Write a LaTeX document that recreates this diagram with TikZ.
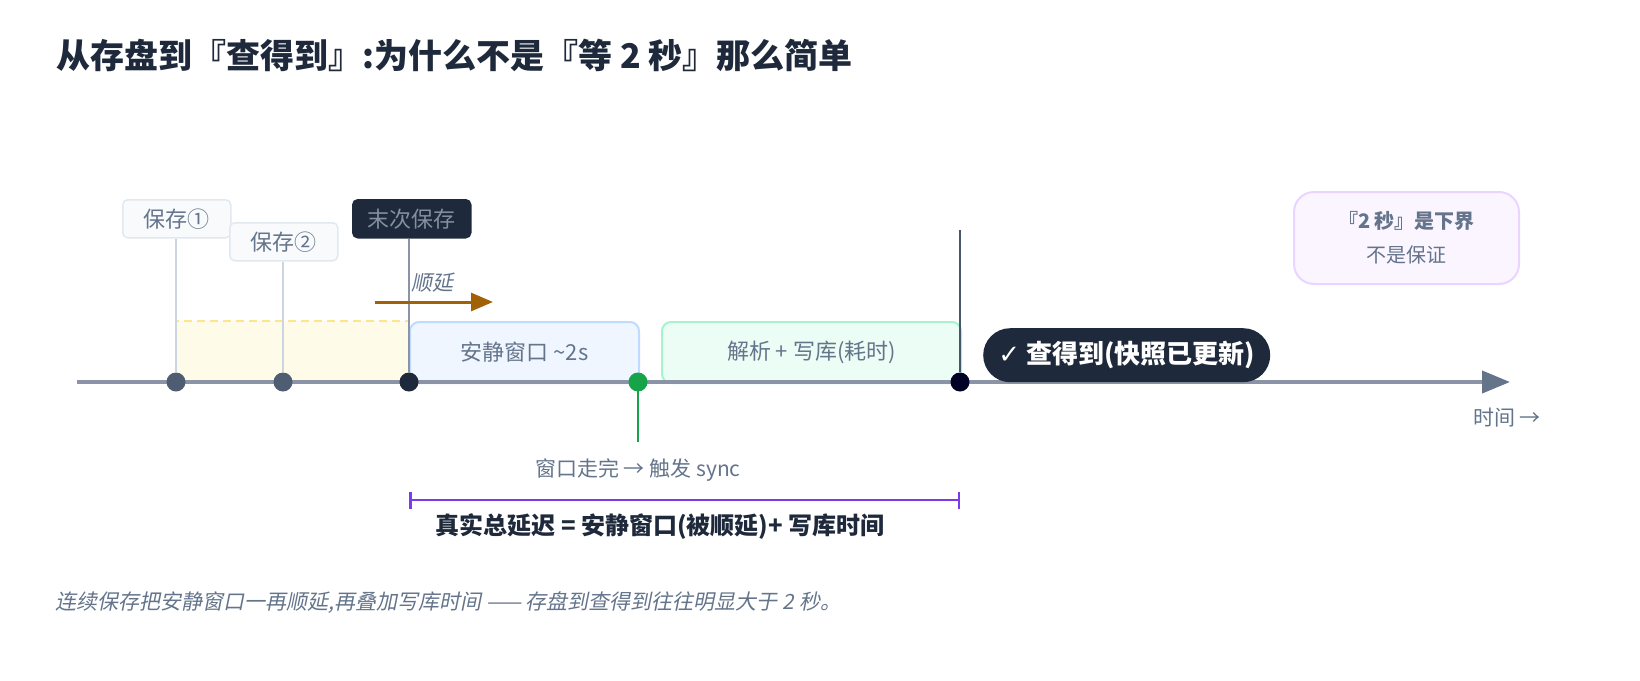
\documentclass[tikz,border=0pt]{standalone}
\usepackage{fontspec}
\setmainfont{Noto Sans CJK SC}
\newfontfamily\slantfont[FakeSlant=0.2]{Noto Sans CJK SC}
\newfontfamily\symfont{DejaVu Sans}
\usetikzlibrary{arrows.meta,positioning}

\definecolor{ink}{HTML}{1E293B}
\definecolor{muted}{HTML}{64748B}
\definecolor{axisgray}{HTML}{8A94A6}
\definecolor{okgreen}{HTML}{16A34A}
\definecolor{pushbrown}{HTML}{A16207}
\definecolor{spanviolet}{HTML}{7C3AED}
\definecolor{quietfill}{HTML}{EFF6FF}
\definecolor{quietline}{HTML}{BFDBFE}
\definecolor{writefill}{HTML}{ECFDF5}
\definecolor{writeline}{HTML}{A7F3D0}
\definecolor{pendfill}{HTML}{FEFCE8}
\definecolor{pendline}{HTML}{FDE68A}
\definecolor{notefill}{HTML}{FAF5FF}
\definecolor{noteline}{HTML}{E9D5FF}
\definecolor{tagfill}{HTML}{F8FAFC}
\definecolor{tagline}{HTML}{E2E8F0}
\definecolor{stem}{HTML}{CBD5E1}

\tikzset{
  savetag/.style={rounded corners=5pt, line width=1.5pt, inner sep=0pt, font=\fontsize{22}{24}\selectfont},
  phasebox/.style={rounded corners=9pt, line width=2pt, inner sep=0pt, text=muted, font=\fontsize{22}{24}\selectfont},
  dot/.style={circle, fill=#1, minimum size=19pt, inner sep=0pt},
  tickline/.style={line width=2.5pt}
}

\begin{document}
\begin{tikzpicture}[x=1pt, y=-1pt]
  \useasboundingbox (0,0) rectangle (1640,680);

  % Title
  \node[anchor=west, text=ink, font=\fontsize{34}{38}\selectfont\bfseries] (title) at (53,55) {从存盘到『查得到』:为什么不是『等 2 秒』那么简单};

  % Pending (pushed-back) windows
  \draw[fill=pendfill, draw=pendline, line width=2pt, dash pattern=on 8pt off 5pt] (176,321) rectangle (409,382);

  % Phases
  \node[phasebox, draw=quietline, fill=quietfill, minimum width=229pt, minimum height=61pt, anchor=north west] (quiet) at (409,321) {安静窗口 \textasciitilde 2s};
  \node[phasebox, draw=writeline, fill=writefill, minimum width=299pt, minimum height=61pt, anchor=north west] (write) at (661,321) {解析 + 写库(耗时)};

  % Axis
  \coordinate (tstart) at (77,382);
  \coordinate (tend) at (1510,382);
  \draw[axisgray, line width=4pt, -{Triangle[length=28pt, width=22pt, color=muted]}] (tstart) -- (tend);
  \node[text=muted, font=\fontsize{21}{24}\selectfont] (timelbl) at (1507,418) {时间 →};

  % Save markers
  \node[savetag, fill=tagfill, draw=tagline, text=muted, minimum width=108pt, minimum height=38pt, anchor=north west] (s1) at (122,199) {保存①};
  \node[savetag, fill=tagfill, draw=tagline, text=muted, minimum width=108pt, minimum height=38pt, anchor=north west] (s2) at (229,222) {保存②};
  \node[savetag, fill=ink, draw=ink, text=muted!80!white, minimum width=118pt, minimum height=38pt, anchor=north west] (s3) at (352,199) {末次保存};

  \node[dot=muted!70!ink] (d1) at (176,382) {};
  \node[dot=muted!70!ink] (d2) at (283,382) {};
  \node[dot=ink] (d3) at (409,382) {};
  \node[dot=black!85!blue] (d5) at (960,382) {};

  \draw[tickline, stem] (s1.south -| d1) -- (d1);
  \draw[tickline, stem] (s2.south -| d2) -- (d2);
  \draw[tickline, axisgray] (s3.south -| d3) -- (d3);
  \coordinate (doneTop) at (960,230);
  \draw[tickline, muted!60!ink] (doneTop) -- (d5);
  \coordinate (syncEnd) at (638,442);
  \draw[tickline, okgreen] (638,382) -- (syncEnd);
  \node[dot=okgreen] (d4) at (638,382) {};

  % Push-back arrow
  \node[text=muted, font=\fontsize{21}{24}\slantfont] (push) at (432,283) {顺延};
  \coordinate (pushA) at (375,302);
  \coordinate (pushB) at (493,302);
  \draw[pushbrown, line width=3pt, -{Triangle[length=22pt, width=18pt]}] (pushA) -- (pushB);

  % Result
  \node[fill=ink, text=white, rounded corners=27pt, minimum width=287pt, minimum height=54pt, inner sep=0pt, anchor=north west, font=\fontsize{26}{28}\selectfont\bfseries] (done) at (983,328) {{\symfont ✓} 查得到(快照已更新)};

  % Note
  \node[draw=noteline, fill=notefill, rounded corners=20pt, line width=2pt, minimum width=225pt, minimum height=92pt, anchor=north west, align=center, text=muted, font=\fontsize{20}{34}\selectfont] (note) at (1293,191) {\textbf{『2 秒』是下界}\\不是保证};

  % Sync label
  \node[text=muted, font=\fontsize{21}{24}\selectfont] (synclbl) at (638,470) {窗口走完 → 触发 sync};

  % Total span
  \coordinate (spanA) at (409,500);
  \coordinate (spanB) at (960,500);
  \draw[spanviolet, line width=2.5pt, {Bar[width=17pt]}-{Bar[width=17pt]}] (spanA) -- (spanB);
  \node[text=ink, font=\fontsize{24}{26}\selectfont\bfseries] (total) at (660,527) {真实总延迟 = 安静窗口(被顺延)+ 写库时间};

  % Footer
  \node[anchor=west, text=muted, font=\fontsize{21}{24}\slantfont] (foot) at (52,603) {连续保存把安静窗口一再顺延,再叠加写库时间 —— 存盘到查得到往往明显大于 2 秒。};
\end{tikzpicture}
\end{document}
